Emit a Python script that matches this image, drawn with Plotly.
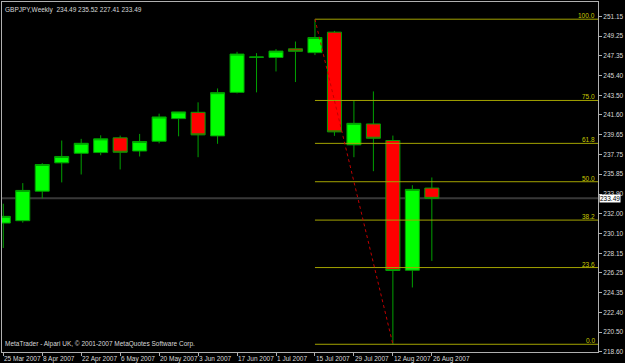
import pandas as pd
import plotly.graph_objects as go

# ---- data ----
dates = pd.date_range("2007-03-25", periods=23, freq="7D")
opens = [231.09, 231.32, 234.19, 236.94, 237.87, 237.94, 239.37, 238.09, 239.04, 241.24, 241.85, 239.56,
         243.79, 247.20, 247.18, 248.02, 247.65, 249.64, 238.69, 240.72, 239.11, 226.51, 234.49]
highs = [232.97, 234.97, 236.91, 239.11, 239.27, 239.62, 239.59, 239.75, 241.72, 241.89, 242.82, 244.17,
         247.73, 247.60, 247.99, 248.73, 250.90, 249.76, 242.98, 243.88, 239.59, 234.77, 235.52]
lows = [228.67, 231.13, 233.49, 235.04, 235.81, 237.68, 236.30, 237.56, 238.84, 239.52, 237.49, 238.79,
        243.69, 243.79, 245.82, 244.79, 247.41, 239.56, 237.49, 236.13, 219.31, 224.83, 227.41]
closes = [231.74, 234.26, 236.78, 237.56, 238.84, 239.27, 237.97, 239.01, 241.40, 241.89, 239.66, 243.76,
          247.51, 247.22, 247.80, 247.78, 249.12, 239.95, 240.78, 239.33, 226.48, 234.36, 233.49]

y_ticks = [251.15, 249.25, 247.35, 245.40, 243.50, 241.60, 239.65, 237.75, 235.85, 233.90,
           232.00, 230.10, 228.15, 226.25, 224.35, 222.40, 220.50, 218.60]
x_tick_labels = ["25 Mar 2007", "8 Apr 2007", "22 Apr 2007", "6 May 2007", "20 May 2007", "3 Jun 2007",
                 "17 Jun 2007", "1 Jul 2007", "15 Jul 2007", "29 Jul 2007", "12 Aug 2007", "26 Aug 2007"]
x_tick_dates = list(dates[::2])

fib_levels = [0.0, 23.6, 38.2, 50.0, 61.8, 75.0, 100.0]
fib_start_idx = 16   # swing high bar
fib_end_idx = 20     # swing low bar
bid = 233.49
title_text = "GBPJPY,Weekly  234.49 235.52 227.41 233.49"
copyright_text = "MetaTrader - Alpari UK, \u00a9 2001-2007 MetaQuotes Software Corp."

# ---- styles ----
FONT = "Liberation Sans"
WEEK = pd.Timedelta(days=7)
x0 = dates[0] - 0.066 * WEEK
x1 = dates[0] + 30.53 * WEEK
y_range = [218.56, 252.57]
fib_line_color = "#a3a300"
fib_text_color = "#c8c800"

fig = go.Figure()

fig.add_shape(type="line", xref="paper", x0=0, x1=1, y0=bid, y1=bid,
              line=dict(color="#383838", width=2), layer="below")

fig.add_trace(go.Candlestick(
    x=dates, open=opens, high=highs, low=lows, close=closes,
    increasing=dict(fillcolor="#00ff00", line=dict(color="#00a000", width=1)),
    decreasing=dict(fillcolor="#ff0000", line=dict(color="#00a000", width=1)),
    whiskerwidth=0, showlegend=False, hoverinfo="skip",
))

hi = highs[fib_start_idx]
lo = lows[fib_end_idx]
fx, fy = [], []
for lv in fib_levels:
    p = lo + (hi - lo) * lv / 100.0
    fx += [dates[fib_start_idx], x1, None]
    fy += [p, p, None]
fig.add_trace(go.Scatter(x=fx, y=fy, mode="lines", line=dict(color=fib_line_color, width=1),
                         showlegend=False, hoverinfo="skip", cliponaxis=True))
fig.add_trace(go.Scatter(x=[dates[fib_start_idx], dates[fib_end_idx]], y=[hi, lo], mode="lines",
                         line=dict(color="#c00000", width=1, dash="dot"),
                         showlegend=False, hoverinfo="skip"))

ann = []
for lv in fib_levels:
    p = lo + (hi - lo) * lv / 100.0
    ann.append(dict(xref="paper", x=1, xanchor="right", xshift=-1, yref="y", y=p, yanchor="bottom",
                    yshift=-2, text=f"{lv:.1f}", showarrow=False,
                    font=dict(family=FONT, size=6.5, color=fib_text_color)))
for d, t in zip(x_tick_dates, x_tick_labels):
    ann.append(dict(xref="x", x=d, xanchor="left", xshift=-1, yref="paper", y=0, yanchor="top",
                    yshift=-1, text=t, showarrow=False,
                    font=dict(family=FONT, size=6.5, color="#d8d8d8")))
ann.append(dict(xref="paper", x=0, xanchor="left", xshift=1, yref="paper", y=1, yanchor="top",
                yshift=-2, text=title_text, showarrow=False,
                font=dict(family=FONT, size=6.5, color="#d8d8d8")))
ann.append(dict(xref="paper", x=0, xanchor="left", xshift=1, yref="paper", y=0, yanchor="bottom",
                yshift=2, text=copyright_text, showarrow=False,
                font=dict(family=FONT, size=6.5, color="#d8d8d8")))
ann.append(dict(xref="paper", x=1, xanchor="left", xshift=1, yref="y", y=bid, yanchor="middle",
                text=f"{bid:.2f}", showarrow=False, bgcolor="#ffffff", borderpad=0,
                font=dict(family=FONT, size=6.5, color="#000000")))

fig.update_layout(
    width=625, height=363,
    margin=dict(l=1, r=23, t=1, b=11),
    paper_bgcolor="#000000", plot_bgcolor="#000000",
    boxgap=0.28, boxgroupgap=0,
    annotations=ann,
    showlegend=False,
)
fig.update_xaxes(type="date", range=[x0, x1], rangeslider_visible=False,
                 tickvals=x_tick_dates, showticklabels=False,
                 ticks="outside", ticklen=3, tickcolor="#b0b0b0",
                 showgrid=False, zeroline=False,
                 showline=True, linecolor="#b0b0b0", linewidth=1, mirror=True)
fig.update_yaxes(side="right", range=y_range, tickvals=y_ticks,
                 ticktext=[f"{v:.2f}" for v in y_ticks],
                 ticks="outside", ticklen=3, tickcolor="#b0b0b0",
                 tickfont=dict(family=FONT, size=6.5, color="#d8d8d8"),
                 showgrid=False, zeroline=False,
                 showline=True, linecolor="#b0b0b0", linewidth=1, mirror=True)

fig.write_html("out.html")
